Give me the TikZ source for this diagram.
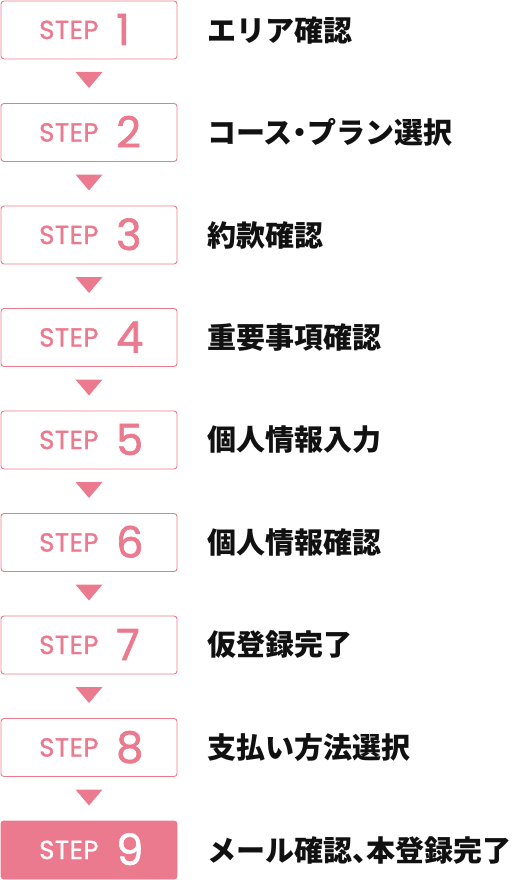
\documentclass[tikz,border=0pt]{standalone}
\usepackage{fontspec}
\usetikzlibrary{calc}
\newfontfamily\cjk{Noto Sans CJK JP}
\newfontfamily\stepfont[LetterSpace=2,FakeBold=1.2]{Poppins}
\newfontfamily\numfont[FakeBold=1.5]{Poppins}
\definecolor{pink}{HTML}{EC7A8E}
\definecolor{ink}{HTML}{111111}
\newcommand\halfl[1]{\makebox[0.5em][l]{#1}}
\newcommand\halfc[1]{\makebox[0.5em][c]{#1}}
\tikzset{
  stepbox/.style={draw=pink, line width=0.9pt, rounded corners=3pt, fill=white, minimum width=176pt, minimum height=58pt, inner sep=0pt},
  stepboxlast/.style={stepbox, fill=pink},
  steplbl/.style={anchor=base west, inner sep=0pt, text=pink, font=\stepfont\fontsize{26}{26}\selectfont},
  stepnum/.style={anchor=base west, inner sep=0pt, text=pink, font=\numfont\fontsize{43}{43}\selectfont},
  desc/.style={anchor=west, inner sep=0pt, text=ink, font=\cjk\bfseries\fontsize{29}{32}\selectfont},
  tri/.style={fill=pink, draw=none}
}
\begin{document}
\begin{tikzpicture}[x=1pt,y=-1pt]
\useasboundingbox (0,0) rectangle (522,880);
\foreach \i/\t in {1/エリア確認,2/コース\halfc{・}プラン選択,3/約款確認,4/重要事項確認,5/個人情報入力,6/個人情報確認,7/仮登録完了,8/支払い方法選択,9/メール確認\halfl{、}本登録完了}{
  \pgfmathsetmacro{\cy}{30+(\i-1)*102.5}
  \ifnum\i=9
    \node[stepboxlast] (box\i) at (89,\cy) {};
    \node[steplbl,text=white] (lbl\i) at (39,\cy+9) {STEP};
    \node[stepnum,text=white] (num\i) at (116,\cy+15) {\i};
  \else
    \node[stepbox] (box\i) at (89,\cy) {};
    \node[steplbl] (lbl\i) at (39,\cy+9) {STEP};
    \node[stepnum] (num\i) at (116,\cy+15) {\i};
    \coordinate (t\i) at (89,\cy+29+13);
    \fill[tri] ($(t\i)+(-13.5,0)$) -- ($(t\i)+(13.5,0)$) -- ($(t\i)+(0,16)$) -- cycle;
  \fi
  \node[desc] (d\i) at (207,\cy) {\t};
}
\end{tikzpicture}
\end{document}
